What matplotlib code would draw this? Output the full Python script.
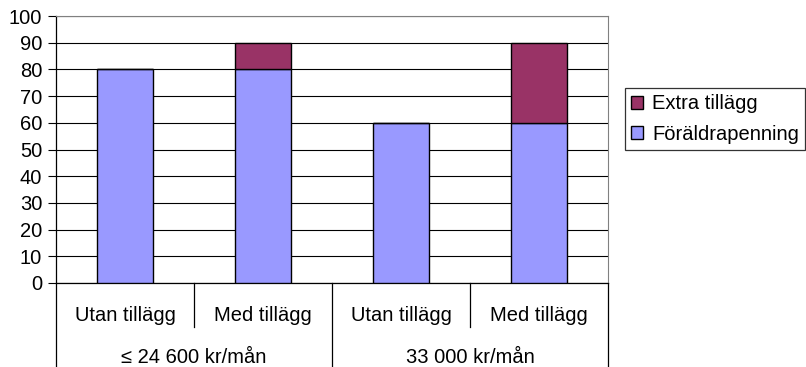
import matplotlib
matplotlib.use("Agg")
from matplotlib import pyplot as plt
from matplotlib.lines import Line2D
import numpy as np

plt.rcParams['font.family'] = ['Liberation Sans', 'DejaVu Sans']

# data
grupper = ['≤ 24 600 kr/mån', '33 000 kr/mån']
kategorier = ['Utan tillägg', 'Med tillägg', 'Utan tillägg', 'Med tillägg']
foraldrapenning = [80, 80, 60, 60]
extra_tillagg = [0, 10, 0, 30]

fig = plt.figure(figsize=(8.06, 3.67), dpi=100)
ax = fig.add_axes([56 / 806, 1 - 283 / 367, 552 / 806, 267 / 367])

x = np.arange(len(kategorier)) + 0.5
b1 = ax.bar(x, foraldrapenning, width=0.41, color='#9999FF', edgecolor='black',
            linewidth=1, label='Föräldrapenning', zorder=3)
b2 = ax.bar(x, extra_tillagg, width=0.41, bottom=foraldrapenning, color='#993366',
            edgecolor='black', linewidth=1, label='Extra tillägg', zorder=3)

ax.set_xlim(0, len(kategorier))
ax.set_ylim(0, 100)
ax.set_yticks(range(0, 101, 10))
ax.yaxis.grid(True, color='black', linewidth=0.8, zorder=0)
ax.set_xticks([])
ax.tick_params(axis='y', direction='out', length=6, width=0.8, labelsize=14.5, pad=4)

for s in ['top', 'right']:
    ax.spines[s].set_color('#808080')
for s in ['left', 'bottom']:
    ax.spines[s].set_color('black')
    ax.spines[s].set_linewidth(0.9)

# kategorietiketter, nivå 1
for xi, namn in zip(x, kategorier):
    ax.text(xi, -0.12, namn, transform=ax.get_xaxis_transform(), ha='center',
            va='center', fontsize=14.5)
for xi in [1, 3]:
    ax.add_line(Line2D([xi, xi], [0, -0.165], transform=ax.get_xaxis_transform(),
                       color='black', linewidth=0.9, clip_on=False))

# grupper, nivå 2
for i, g in enumerate(grupper):
    ax.text(2 * i + 1, -0.278, g, transform=ax.get_xaxis_transform(), ha='center',
            va='center', fontsize=14.5)
for xi in [0, 2, 4]:
    ax.add_line(Line2D([xi, xi], [0, -0.33], transform=ax.get_xaxis_transform(),
                       color='black', linewidth=0.9, clip_on=False))

leg = ax.legend([b2, b1], ['Extra tillägg', 'Föräldrapenning'], loc='center left',
                bbox_to_anchor=(625 / 806, 1 - 119 / 367), bbox_transform=fig.transFigure,
                fontsize=14.5, frameon=True, fancybox=False, shadow=False,
                borderpad=0.3, labelspacing=0.55, handlelength=0.6, handleheight=0.6,
                handletextpad=0.45, borderaxespad=0)
leg.get_frame().set_edgecolor('black')
leg.get_frame().set_linewidth(0.9)

fig.savefig('out.png', dpi=100)
